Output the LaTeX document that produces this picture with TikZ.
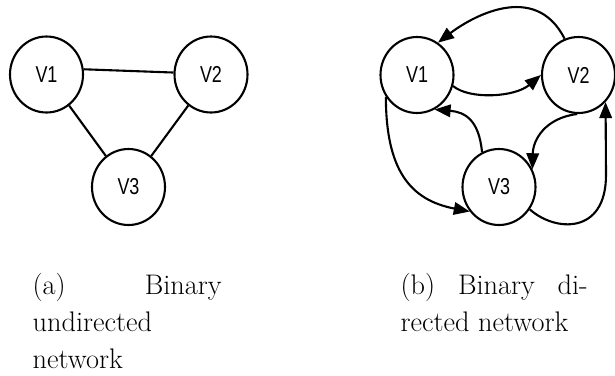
\documentclass[tikz,border=0pt]{standalone}
\usepackage{fontspec}
\newfontfamily\labfont[FakeStretch=0.78]{Liberation Sans}
\usetikzlibrary{shapes.geometric,arrows.meta}
\tikzset{
  vert/.style={ellipse, draw, line width=2.1pt, minimum width=73pt, minimum height=76pt, inner sep=0pt,
    font=\labfont\fontsize{23}{26}\selectfont},
  edge/.style={line width=2.1pt},
  arr/.style={line width=2.1pt, -{Triangle[length=16pt,width=12.5pt]}},
  capt/.style={anchor=base west, inner sep=0pt, font=\fontsize{28.3}{34}\selectfont}
}
\begin{document}
\begin{tikzpicture}[x=1pt,y=-1pt]
\useasboundingbox (0,0) rectangle (615,375);
% (a) undirected
\node[vert] (a1) at (46.5,74.5) {V1};
\node[vert] (a2) at (211,74.5) {V2};
\node[vert] (a3) at (128.5,187) {V3};
\draw[edge] (a1.8) -- (a2.177);
\draw[edge] (a1) -- (a3);
\draw[edge] (a2) -- (a3);
% (b) directed
\node[vert] (b1) at (417,75) {V1};
\node[vert] (b2) at (578.5,75) {V2};
\node[vert] (b3) at (499,187) {V3};
\draw[arr] (b2.111) .. controls (535,-20) and (470,18) .. (b1.57);
\draw[arr] (b1.-17) .. controls (470,100) and (515,97) .. (b2.180);
\draw[arr] (b3.116) .. controls (479,120) and (465,112) .. (b1.-63);
\draw[arr] (b2.-92) .. controls (545,118) and (533,140) .. (b3.28);
\draw[arr] (b1.215) .. controls (386,170) and (410,200) .. (b3.220);
\coordinate (c6) at (606,175);
\draw[arr] (b3.-36) .. controls (555,232) and (606,235) .. (c6) -- (b2.-45);
% captions
\node[capt] (ca1) at (32.5,294.3) {\hbox to 189pt{(a)\hfill Binary}};
\node[capt] (ca2) at (32.5,331.5) {undirected};
\node[capt] (ca3) at (32.5,368.3) {network};
\node[capt] (cb1) at (400.5,294.3) {\hbox to 187pt{(b)\hfill Binary\hfill di-}};
\node[capt] (cb2) at (400.5,331.5) {rected network};
\end{tikzpicture}
\end{document}
